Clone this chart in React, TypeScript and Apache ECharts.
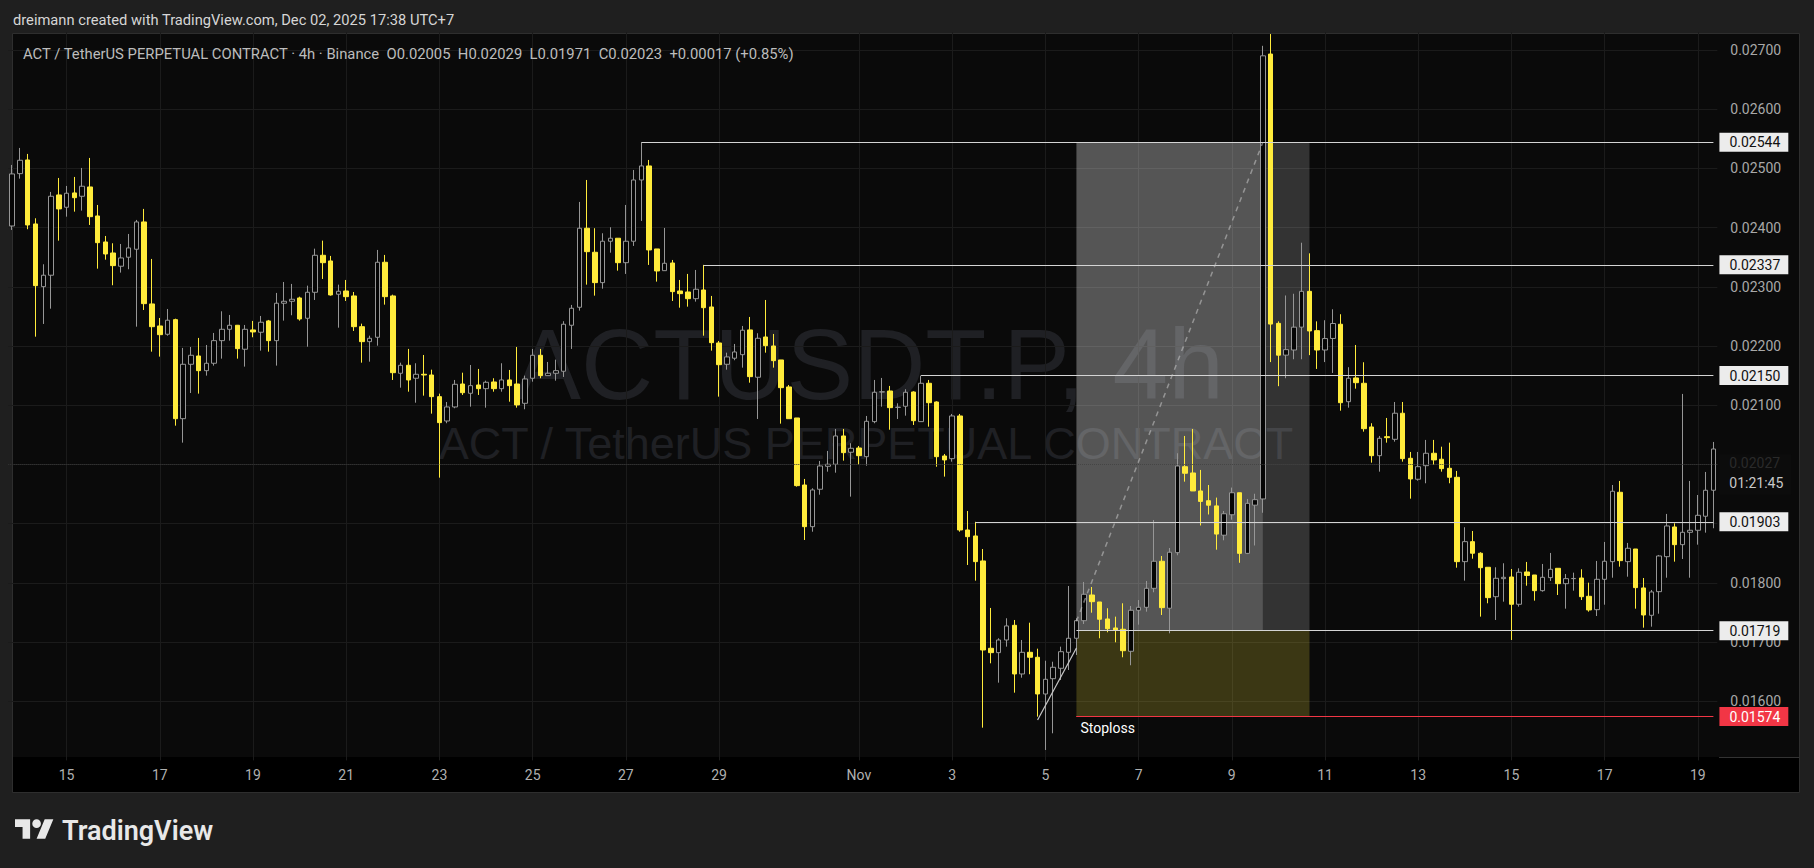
import React, { useEffect, useRef } from 'react';
import * as echarts from 'echarts';

const FONT = 'Roboto, "Liberation Sans", Arial, sans-serif';

// 4h candles, first bar opens 2025-10-13 20:00 (UTC+7 chart time)
const START_UTC = Date.UTC(2025, 9, 13, 20, 0, 0);
const STEP_MS = 4 * 3600 * 1000;
const BAR_COUNT = 220;
const MONTHS = ['Jan', 'Feb', 'Mar', 'Apr', 'May', 'Jun', 'Jul', 'Aug', 'Sep', 'Oct', 'Nov', 'Dec'];

const OPEN = [
  0.024027, 0.024911, 0.025142, 0.024061, 0.023002, 0.023195, 0.024551, 0.024343, 0.024585, 0.024529,
  0.024686, 0.024196, 0.023757, 0.023571, 0.023347, 0.023499, 0.023634, 0.024095, 0.022710, 0.022338,
  0.022198, 0.022445, 0.020772, 0.021691, 0.021831, 0.021583, 0.021708, 0.022090, 0.022282, 0.022350,
  0.021945, 0.022271, 0.022232, 0.022423, 0.022090, 0.022722, 0.022755, 0.022811, 0.022468, 0.022907,
  0.023532, 0.023436, 0.022874, 0.022929, 0.022845, 0.022326, 0.022073, 0.022147, 0.023414, 0.022845,
  0.021539, 0.021674, 0.021455, 0.021522, 0.021510, 0.021144, 0.020733, 0.020970, 0.021358, 0.021201,
  0.021341, 0.021279, 0.021392, 0.021279, 0.021426, 0.021358, 0.021032, 0.021455, 0.021843, 0.021499,
  0.021539, 0.021573, 0.022350, 0.022654, 0.023989, 0.023583, 0.023070, 0.023769, 0.023820, 0.023407,
  0.023769, 0.024804, 0.025041, 0.023639, 0.023272, 0.023402, 0.022929, 0.022912, 0.022799, 0.022946,
  0.022659, 0.022051, 0.021691, 0.021793, 0.021853, 0.022271, 0.021472, 0.022152, 0.022000, 0.021764,
  0.021308, 0.020784, 0.019652, 0.018948, 0.019580, 0.019968, 0.020002, 0.020480, 0.020205, 0.020277,
  0.020130, 0.020722, 0.021223, 0.021240, 0.020963, 0.020982, 0.021223, 0.020722, 0.021370, 0.021054,
  0.020142, 0.020097, 0.020818, 0.018892, 0.018791, 0.018369, 0.016894, 0.016820, 0.017034, 0.017282,
  0.016460, 0.016826, 0.016742, 0.016122, 0.016380, 0.016556, 0.016826, 0.017063, 0.017360, 0.017794,
  0.017676, 0.017389, 0.017237, 0.017215, 0.016843, 0.017536, 0.017586, 0.017907, 0.018364, 0.017570,
  0.018509, 0.019961, 0.019855, 0.019551, 0.019387, 0.019299, 0.018804, 0.019149, 0.019521, 0.018497,
  0.019311, 0.019416, 0.026931, 0.022382, 0.021845, 0.021932, 0.022318, 0.022923, 0.022259, 0.021932,
  0.022127, 0.022367, 0.021059, 0.021460, 0.021370, 0.020632, 0.020147, 0.020468, 0.020424, 0.020864,
  0.020103, 0.019749, 0.019978, 0.020188, 0.020087, 0.019934, 0.019782, 0.018357, 0.018695, 0.018499,
  0.018262, 0.017765, 0.018070, 0.018098, 0.017637, 0.018183, 0.018132, 0.017867, 0.018087, 0.018245,
  0.017985, 0.018070, 0.018081, 0.017772, 0.017546, 0.018059, 0.018357, 0.019529, 0.018357, 0.018571,
  0.017913, 0.017451, 0.017850, 0.018441, 0.018943, 0.018644, 0.018853, 0.018887, 0.019124, 0.019563,
];

const CLOSE = [
  0.024906, 0.025137, 0.024044, 0.023019, 0.023195, 0.024529, 0.024315, 0.024580, 0.024505, 0.024698,
  0.024184, 0.023745, 0.023554, 0.023357, 0.023487, 0.023656, 0.024095, 0.022715, 0.022326, 0.022191,
  0.022435, 0.020772, 0.021691, 0.021843, 0.021583, 0.021708, 0.022090, 0.022282, 0.022350, 0.021955,
  0.022282, 0.022237, 0.022401, 0.022090, 0.022722, 0.022755, 0.022789, 0.022456, 0.022907, 0.023532,
  0.023407, 0.022862, 0.022924, 0.022833, 0.022326, 0.022073, 0.022130, 0.023414, 0.022833, 0.021549,
  0.021674, 0.021426, 0.021522, 0.021510, 0.021144, 0.020705, 0.020970, 0.021353, 0.021211, 0.021330,
  0.021279, 0.021387, 0.021279, 0.021426, 0.021330, 0.021004, 0.021443, 0.021843, 0.021499, 0.021539,
  0.021583, 0.022367, 0.022637, 0.023989, 0.023593, 0.023070, 0.023769, 0.023820, 0.023407, 0.023769,
  0.024804, 0.025041, 0.023622, 0.023267, 0.023397, 0.022918, 0.022884, 0.022799, 0.022958, 0.022647,
  0.022056, 0.021684, 0.021815, 0.021899, 0.022266, 0.021482, 0.022130, 0.022005, 0.021752, 0.021296,
  0.020772, 0.019641, 0.018948, 0.019568, 0.019973, 0.020002, 0.020480, 0.020198, 0.020272, 0.020147,
  0.020728, 0.021218, 0.021226, 0.020958, 0.020966, 0.021218, 0.020738, 0.021370, 0.021042, 0.020130,
  0.020075, 0.020818, 0.018892, 0.018779, 0.018357, 0.016865, 0.016820, 0.017034, 0.017271, 0.016460,
  0.016826, 0.016742, 0.016122, 0.016370, 0.016573, 0.016836, 0.017063, 0.017360, 0.017806, 0.017681,
  0.017384, 0.017225, 0.017203, 0.016853, 0.017536, 0.017586, 0.017907, 0.018364, 0.017580, 0.018516,
  0.019973, 0.019850, 0.019551, 0.019375, 0.019311, 0.018823, 0.019166, 0.019521, 0.018497, 0.019342,
  0.019404, 0.026901, 0.022370, 0.021845, 0.021938, 0.022318, 0.022923, 0.022254, 0.021932, 0.022125,
  0.022380, 0.021042, 0.021455, 0.021380, 0.020603, 0.020147, 0.020441, 0.020451, 0.020864, 0.020097,
  0.019754, 0.019961, 0.020188, 0.020075, 0.019928, 0.019782, 0.018357, 0.018695, 0.018499, 0.018255,
  0.017749, 0.018076, 0.018093, 0.017637, 0.018178, 0.018124, 0.017867, 0.018093, 0.018228, 0.017985,
  0.018070, 0.018073, 0.017765, 0.017541, 0.018059, 0.018364, 0.019546, 0.018374, 0.018583, 0.017918,
  0.017456, 0.017845, 0.018453, 0.018960, 0.018644, 0.018853, 0.018887, 0.019140, 0.019563, 0.020260,
];

const LOW = [
  0.023960, 0.024826, 0.023972, 0.022157, 0.022372, 0.022630, 0.023779, 0.024184, 0.024269, 0.024286,
  0.024044, 0.023306, 0.023458, 0.023026, 0.023239, 0.023296, 0.022326, 0.022608, 0.021904, 0.021820,
  0.022174, 0.020654, 0.020367, 0.021206, 0.021195, 0.021499, 0.021668, 0.021786, 0.022090, 0.021786,
  0.021651, 0.022147, 0.021921, 0.021904, 0.021668, 0.022428, 0.022519, 0.022428, 0.021988, 0.022777,
  0.023132, 0.022850, 0.022309, 0.022760, 0.022254, 0.021718, 0.021735, 0.022005, 0.022698, 0.021426,
  0.021296, 0.021228, 0.021042, 0.021161, 0.020857, 0.019776, 0.020695, 0.020948, 0.021173, 0.020975,
  0.021173, 0.020958, 0.021228, 0.021228, 0.021059, 0.020958, 0.020931, 0.021397, 0.021455, 0.021499,
  0.021414, 0.021477, 0.021950, 0.022597, 0.023036, 0.022850, 0.022968, 0.023576, 0.023272, 0.023217,
  0.023690, 0.024112, 0.023369, 0.023087, 0.023272, 0.022760, 0.022647, 0.022664, 0.022749, 0.022174,
  0.021921, 0.021144, 0.021600, 0.021759, 0.021634, 0.021380, 0.020767, 0.021887, 0.021634, 0.020688,
  0.020772, 0.019624, 0.018723, 0.018863, 0.019488, 0.019877, 0.019860, 0.020063, 0.019455, 0.019995,
  0.019978, 0.020695, 0.020975, 0.020586, 0.020767, 0.020823, 0.020666, 0.020722, 0.020637, 0.019961,
  0.019793, 0.020046, 0.018863, 0.018301, 0.018036, 0.015553, 0.016640, 0.016313, 0.016921, 0.016144,
  0.016397, 0.016455, 0.015739, 0.015176, 0.015458, 0.016358, 0.016527, 0.016781, 0.017304, 0.017495,
  0.017063, 0.017164, 0.016995, 0.016742, 0.016607, 0.017293, 0.017512, 0.017840, 0.017456, 0.017147,
  0.018465, 0.019708, 0.019551, 0.018968, 0.019154, 0.018559, 0.018718, 0.019066, 0.018338, 0.018485,
  0.018630, 0.019183, 0.021728, 0.021321, 0.021455, 0.021776, 0.021776, 0.021845, 0.021612, 0.021728,
  0.021544, 0.020907, 0.020958, 0.021279, 0.020553, 0.020029, 0.019877, 0.020367, 0.020384, 0.020046,
  0.019421, 0.019725, 0.019681, 0.019995, 0.019877, 0.019681, 0.018255, 0.018036, 0.018407, 0.017428,
  0.017654, 0.017372, 0.017681, 0.017034, 0.017597, 0.017951, 0.017698, 0.017850, 0.018031, 0.017794,
  0.017563, 0.017867, 0.017709, 0.017512, 0.017439, 0.017630, 0.018086, 0.018272, 0.018103, 0.017563,
  0.017242, 0.017259, 0.017478, 0.018086, 0.018357, 0.018402, 0.018086, 0.018644, 0.018847, 0.018921,
];

const HIGH = [
  0.025058, 0.025345, 0.025244, 0.024157, 0.023380, 0.024602, 0.024838, 0.024703, 0.024855, 0.025007,
  0.025176, 0.024382, 0.023858, 0.023735, 0.023723, 0.023892, 0.024129, 0.024315, 0.023470, 0.022473,
  0.022625, 0.022461, 0.021967, 0.021983, 0.022136, 0.022017, 0.022220, 0.022586, 0.022524, 0.022355,
  0.022355, 0.022423, 0.022507, 0.022440, 0.022896, 0.023081, 0.023048, 0.022833, 0.023019, 0.023644,
  0.023779, 0.023521, 0.023036, 0.023115, 0.022912, 0.022377, 0.022174, 0.023622, 0.023538, 0.022867,
  0.021718, 0.021950, 0.021708, 0.021848, 0.021600, 0.021195, 0.021054, 0.021426, 0.021549, 0.021679,
  0.021612, 0.021414, 0.021455, 0.021708, 0.021595, 0.021983, 0.021499, 0.021950, 0.021950, 0.021730,
  0.021769, 0.022418, 0.022693, 0.024433, 0.024804, 0.023989, 0.023904, 0.024005, 0.023820, 0.024382,
  0.024973, 0.025440, 0.025142, 0.023639, 0.023994, 0.023453, 0.023115, 0.023217, 0.023284, 0.023370,
  0.022845, 0.022085, 0.021887, 0.022034, 0.022338, 0.022490, 0.022215, 0.022777, 0.022203, 0.021764,
  0.021341, 0.020784, 0.019754, 0.019597, 0.020058, 0.020227, 0.020598, 0.020598, 0.020357, 0.020311,
  0.020818, 0.021426, 0.021460, 0.021325, 0.021032, 0.021269, 0.021235, 0.021500, 0.021426, 0.021066,
  0.020176, 0.020852, 0.020852, 0.019213, 0.019030, 0.018571, 0.017575, 0.017063, 0.017401, 0.017372,
  0.017034, 0.017326, 0.016887, 0.016684, 0.016667, 0.016921, 0.017946, 0.017401, 0.018014, 0.017929,
  0.017676, 0.017570, 0.017428, 0.017654, 0.017608, 0.017709, 0.018031, 0.019061, 0.018453, 0.018588,
  0.020188, 0.020480, 0.020598, 0.019906, 0.019652, 0.019439, 0.019213, 0.019608, 0.019521, 0.019416,
  0.019504, 0.027070, 0.027269, 0.022416, 0.022853, 0.022882, 0.023744, 0.023565, 0.022416, 0.022435,
  0.022620, 0.022536, 0.021641, 0.022017, 0.021725, 0.020695, 0.020480, 0.020784, 0.021054, 0.021054,
  0.020210, 0.020210, 0.020413, 0.020413, 0.020299, 0.020367, 0.019889, 0.018938, 0.018875, 0.018516,
  0.018262, 0.018262, 0.018330, 0.018233, 0.018245, 0.018352, 0.018132, 0.018318, 0.018504, 0.018245,
  0.018149, 0.018171, 0.018228, 0.018002, 0.018369, 0.018690, 0.019652, 0.019720, 0.018673, 0.018571,
  0.018081, 0.017879, 0.018470, 0.019163, 0.019005, 0.021190, 0.019720, 0.019483, 0.019872, 0.020379,
];

// Horizontal rays drawn on the chart: bar where each starts and its price
const RAY_START = [81, 89, 117, 124];
const RAY_PRICE = [0.02544, 0.02337, 0.0215, 0.01903];

// Long position tool
const POS_ENTRY_BAR = 137;
const POS_HIT_BAR = 161;
const POS_END_BAR = 167;
const POS_TARGET = 0.02544;
const POS_ENTRY = 0.01719;
const POS_STOP = 0.01574;

// Trend line into the entry and dashed path to target
const TREND_BARS = [132, 137];
const TREND_PRICES = [0.015683, 0.016899];
const PATH_BARS = [137, 161];
const PATH_PRICES = [0.01735, 0.02544];

const CURRENT_PRICE = 0.02027;
const COUNTDOWN = '01:21:45';

const HEADER = 'dreimann created with TradingView.com, Dec 02, 2025 17:38 UTC+7';
const LEGEND = 'ACT / TetherUS PERPETUAL CONTRACT · 4h · Binance  O0.02005  H0.02029  L0.01971  C0.02023  +0.00017 (+0.85%)';

const LOGO_PATH = 'M14 22H7V11H0V4h14v18zM28 22h-8l7.5-18h8L28 22zM16 8a4 4 0 1 0 8 0a4 4 0 1 0 -8 0z';
let logoRegistered = false;
function registerLogo() {
  if (logoRegistered) return;
  echarts.graphic.registerShape('tvlogo', echarts.graphic.extendPath(LOGO_PATH, {}) as any);
  logoRegistered = true;
}

function pad2(n: number) { return n < 10 ? '0' + n : '' + n; }

function buildCategories() {
  const out: string[] = [];
  for (let i = 0; i < BAR_COUNT; i++) {
    const d = new Date(START_UTC + i * STEP_MS);
    out.push(`${d.getUTCFullYear()}-${pad2(d.getUTCMonth() + 1)}-${pad2(d.getUTCDate())} ${pad2(d.getUTCHours())}:00`);
  }
  return out;
}

export default function App() {
  const ref = useRef<HTMLDivElement>(null);

  useEffect(() => {
    document.body.style.margin = '0';
    document.body.style.background = '#1f1f1f';
    registerLogo();
    const el = ref.current!;
    const chart = echarts.init(el, null, { renderer: 'svg' });

    const cats = buildCategories();
    const labelIdx: number[] = [];
    cats.forEach((c, i) => {
      const day = +c.slice(8, 10);
      const hour = c.slice(11, 13);
      if (hour === '00' && day % 2 === 1 && day !== 31) labelIdx.push(i);
    });
    const labelSet = new Set(labelIdx);
    const last = BAR_COUNT - 1;

    const candleData = OPEN.map((o, i) => [o, CLOSE[i], LOW[i], HIGH[i]]);

    const whiteLabel = (txt: string) => ({
      show: true,
      position: 'end',
      formatter: txt,
      color: '#111111',
      backgroundColor: '#ececec',
      fontSize: 14,
      fontFamily: FONT,
      padding: [3, 8, 2, 10],
      distance: 6,
    });

    const rayLines = RAY_PRICE.map((p, k) => [
      {
        coord: [RAY_START[k], p],
        lineStyle: { color: '#d4d4d4', width: 1, type: 'solid' },
        label: whiteLabel(p.toFixed(5)),
      },
      { coord: [last, p] },
    ]);

    const option: any = {
      animation: false,
      backgroundColor: '#1f1f1f',
      textStyle: { fontFamily: FONT },
      grid: { left: 8.3, top: 32.2, width: 1709, height: 728.2, show: false },
      xAxis: {
        type: 'category',
        data: cats,
        boundaryGap: true,
        axisLine: { show: false },
        axisTick: { show: false },
        splitLine: { show: false },
        axisLabel: {
          interval: (i: number) => labelSet.has(i),
          formatter: (v: string) => {
            const d = +v.slice(8, 10);
            const m = +v.slice(5, 7);
            return d === 1 ? MONTHS[m - 1] : String(d);
          },
          color: '#b0b0b0',
          fontSize: 14,
          margin: 8,
          fontFamily: FONT,
        },
      },
      yAxis: {
        type: 'value',
        position: 'right',
        min: 0.015,
        max: 0.0273,
        interval: 0.001,
        axisLine: { show: false },
        axisTick: { show: false },
        axisLabel: {
          color: '#a8a8a8',
          fontSize: 14,
          margin: 13,
          fontFamily: FONT,
          // 0.02000 sits under the live price / countdown box in the reference
          formatter: (v: number) =>
            v < 0.0155 || v > 0.0271 || Math.abs(v - 0.02) < 0.0002 ? '' : v.toFixed(5),
        },
        splitLine: { show: true, showMinLine: false, showMaxLine: false, lineStyle: { color: '#1b1b1b', width: 1 } },
      },
      series: [
        {
          type: 'line',
          data: [],
          z: 1,
          silent: true,
          markLine: {
            z: 1,
            silent: true,
            symbol: ['none', 'none'],
            label: { show: false },
            lineStyle: { color: '#1b1b1b', width: 1, type: 'solid' },
            data: labelIdx.map((i) => ({ xAxis: i })),
          },
        },
        {
          type: 'line',
          data: [],
          z: 2,
          silent: true,
          markArea: {
            z: 2,
            silent: true,
            label: { show: false },
            data: [
              [
                { coord: [POS_ENTRY_BAR, POS_TARGET], itemStyle: { color: 'rgba(255,255,255,0.31)' } },
                { coord: [POS_HIT_BAR, POS_ENTRY] },
              ],
              [
                { coord: [POS_HIT_BAR, POS_TARGET], itemStyle: { color: 'rgba(255,255,255,0.17)' } },
                { coord: [POS_END_BAR, POS_ENTRY] },
              ],
              [
                { coord: [POS_ENTRY_BAR, POS_ENTRY], itemStyle: { color: 'rgba(255,235,59,0.2)' } },
                { coord: [POS_END_BAR, POS_STOP] },
              ],
            ],
          },
        },
        {
          type: 'candlestick',
          name: 'ACTUSDT.P',
          z: 5,
          data: candleData,
          barWidth: 5,
          itemStyle: {
            color: '#050505',
            color0: '#ffeb3b',
            borderColor: '#969696',
            borderColor0: '#ffeb3b',
            borderWidth: 1,
          },
        },
        {
          type: 'line',
          data: [],
          z: 6,
          silent: true,
          markLine: {
            z: 6,
            silent: true,
            symbol: ['none', 'none'],
            label: { show: false },
            data: [
              {
                yAxis: CURRENT_PRICE,
                lineStyle: { color: '#3a3a3a', width: 1, type: 'dotted' },
                label: {
                  show: true,
                  position: 'end',
                  formatter: `{p|${CURRENT_PRICE.toFixed(5)}}\n{t|${COUNTDOWN}}`,
                  backgroundColor: '#0c0c0c',
                  padding: [0, 8, 0, 10],
                  distance: 2,
                  offset: [0, 10],
                  fontFamily: FONT,
                  rich: {
                    p: { color: '#2a2a2a', fontSize: 14, lineHeight: 18, fontFamily: FONT },
                    t: { color: '#c8c8c8', fontSize: 14, lineHeight: 22, fontFamily: FONT },
                  },
                },
              },
              ...rayLines,
              [
                {
                  coord: [POS_ENTRY_BAR, POS_ENTRY],
                  lineStyle: { color: '#d4d4d4', width: 1, type: 'solid' },
                  label: whiteLabel(POS_ENTRY.toFixed(5)),
                },
                { coord: [last, POS_ENTRY] },
              ],
              [
                {
                  coord: [POS_ENTRY_BAR, POS_STOP],
                  lineStyle: { color: '#f23645', width: 1, type: 'solid' },
                  label: {
                    show: true,
                    position: 'end',
                    formatter: POS_STOP.toFixed(5),
                    color: '#ffffff',
                    backgroundColor: '#f23645',
                    fontSize: 14,
                    fontFamily: FONT,
                    padding: [3, 8, 2, 10],
                    distance: 6,
                  },
                },
                { coord: [last, POS_STOP] },
              ],
              [
                {
                  coord: [POS_ENTRY_BAR, POS_STOP],
                  lineStyle: { color: '#f23645', width: 1, type: 'solid' },
                  label: {
                    show: true,
                    position: 'insideStartBottom',
                    formatter: 'Stoploss',
                    color: '#ffffff',
                    fontSize: 14,
                    fontFamily: FONT,
                    distance: 4,
                  },
                },
                { coord: [POS_END_BAR, POS_STOP] },
              ],
              [
                { coord: [TREND_BARS[0], TREND_PRICES[0]], lineStyle: { color: '#c8c8c8', width: 1.2, type: 'solid' } },
                { coord: [TREND_BARS[1], TREND_PRICES[1]] },
              ],
              [
                { coord: [PATH_BARS[0], PATH_PRICES[0]], lineStyle: { color: 'rgba(200,200,200,0.55)', width: 1.5, type: [5, 5] } },
                { coord: [PATH_BARS[1], PATH_PRICES[1]] },
              ],
            ],
          },
        },
      ],
      graphic: [
        { type: 'rect', z: -10, shape: { x: 12.5, y: 33.5, width: 1787, height: 759 }, style: { fill: '#0a0a0a', stroke: '#2e2e2e', lineWidth: 1 } },
        { type: 'rect', z: -9, shape: { x: 13, y: 757, width: 1786, height: 35 }, style: { fill: '#000000' } },
        { type: 'line', z: -9, shape: { x1: 1719, y1: 757.5, x2: 1799, y2: 757.5 }, style: { stroke: '#333333', lineWidth: 1 } },
        {
          type: 'text', z: -8, x: 869, y: 364,
          style: { text: 'ACTUSDT.P, 4h', fill: '#1f2024', fontSize: 100, fontFamily: '"Liberation Sans", Arial, sans-serif', align: 'center', verticalAlign: 'middle', textAlign: 'center', textVerticalAlign: 'middle' },
        },
        {
          type: 'text', z: -8, x: 866, y: 443,
          style: { text: 'ACT / TetherUS PERPETUAL CONTRACT', fill: '#1f2024', fontSize: 45, fontFamily: '"Liberation Sans", Arial, sans-serif', align: 'center', verticalAlign: 'middle', textAlign: 'center', textVerticalAlign: 'middle' },
        },
        {
          type: 'text', z: 10, x: 13, y: 20,
          style: { text: HEADER, fill: '#d6d6d6', fontSize: 14.7, fontFamily: FONT, align: 'left', verticalAlign: 'middle', textAlign: 'left', textVerticalAlign: 'middle' },
        },
        {
          type: 'text', z: 10, x: 23, y: 54,
          style: { text: LEGEND, fill: '#bdbdbd', fontSize: 14.8, fontFamily: FONT, align: 'left', verticalAlign: 'middle', textAlign: 'left', textVerticalAlign: 'middle' },
        },
        { type: 'tvlogo', z: 10, x: 15, y: 815, scaleX: 1.08, scaleY: 1.08, style: { fill: '#e8e8e8' } },
        {
          type: 'text', z: 10, x: 62, y: 831,
          style: { text: 'TradingView', fill: '#e8e8e8', fontSize: 27, fontWeight: 600, fontFamily: FONT, align: 'left', verticalAlign: 'middle', textAlign: 'left', textVerticalAlign: 'middle' },
        },
      ],
    };

    chart.setOption(option);
    return () => chart.dispose();
  }, []);

  return <div ref={ref} style={{ width: 1814, height: 868 }} />;
}
